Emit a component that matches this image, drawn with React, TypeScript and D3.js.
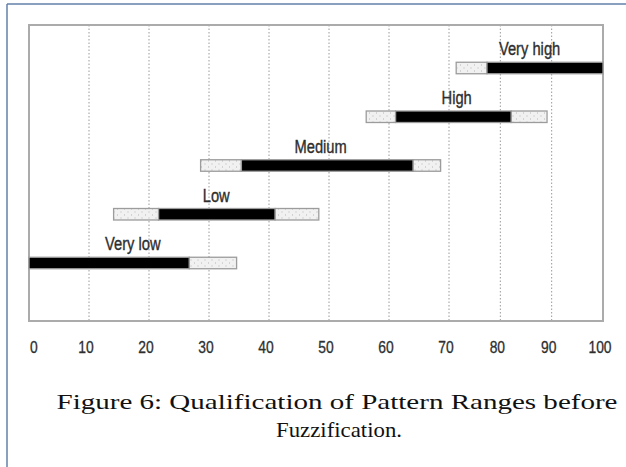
import React from "react";
import * as d3 from "d3";

const categories = ["Very high", "High", "Medium", "Low", "Very low"];
const fuzzyStart = [71.4, 56.2, 28.6, 14.1, 0];
const coreStart = [77.4, 61.1, 35.4, 21.6, 0];
const coreEnd = [100, 82.1, 64, 41, 26.7];
const fuzzyEnd = [100, 89.1, 68.6, 48.3, 34.6];
const tickValues = [0, 10, 20, 30, 40, 50, 60, 70, 80, 90, 100];
const captionLines = ["Figure 6: Qualification of Pattern Ranges before", "Fuzzification."];

const W = 626;
const H = 467;
const plot = { left: 29, right: 603, top: 25, bottom: 321 };

export default function App() {
  // the original axis is piecewise: 0-70 wider than 70-100
  const x = d3.scaleLinear().domain([0, 70, 100]).range([plot.left, 449, plot.right]);
  const y = d3.scalePoint<string>().domain(categories).range([68, 263]);
  const barH = 11.5;
  const labelFont = "'Liberation Sans', Arial, sans-serif";
  const squeeze = 0.84;

  return (
    <svg width={W} height={H} style={{ position: "absolute", left: 0, top: 0, background: "#fff" }}>
      <defs>
        <pattern id="dots" width={7} height={6} patternUnits="userSpaceOnUse">
          <rect width={7} height={6} fill="#f1f1f1" />
          <rect x={1.5} y={1.5} width={1} height={1} fill="#b5b5b5" />
          <rect x={5} y={4.5} width={1} height={1} fill="#b5b5b5" />
        </pattern>
      </defs>
      {/* page border */}
      <line x1={7} y1={4} x2={W} y2={4} stroke="#6282aa" strokeWidth={1.5} />
      <line x1={7} y1={4} x2={7} y2={H} stroke="#6282aa" strokeWidth={1.5} />

      {/* grid */}
      {tickValues.slice(1, -1).map((t) => (
        <line key={t} x1={x(t)} x2={x(t)} y1={plot.top} y2={plot.bottom} stroke="#9a9a9a" strokeWidth={1} strokeDasharray="1.5,2" />
      ))}
      <rect x={plot.left} y={plot.top} width={plot.right - plot.left} height={plot.bottom - plot.top} fill="none" stroke="#ababab" strokeWidth={2} />

      {/* bars */}
      {categories.map((c, i) => {
        const yc = y(c)!;
        const top = yc - barH / 2;
        const segs: { a: number; b: number; fill: string }[] = [];
        if (coreStart[i] > fuzzyStart[i]) segs.push({ a: fuzzyStart[i], b: coreStart[i], fill: "url(#dots)" });
        if (fuzzyEnd[i] > coreEnd[i]) segs.push({ a: coreEnd[i], b: fuzzyEnd[i], fill: "url(#dots)" });
        segs.push({ a: coreStart[i], b: coreEnd[i], fill: "#000" });
        const cx = (x(fuzzyStart[i]) + x(fuzzyEnd[i])) / 2;
        return (
          <g key={c}>
            {segs.map((s, j) => (
              <rect key={j} x={x(s.a)} y={top} width={x(s.b) - x(s.a)} height={barH} fill={s.fill} stroke="#9c9c9c" strokeWidth={1.3} />
            ))}
            <text
              transform={`translate(${cx},${top - 7}) scale(${squeeze},1)`}
              textAnchor="middle"
              fontFamily={labelFont}
              fontSize={17.5}
              fill="#2e2e2e"
              stroke="#2e2e2e"
              strokeWidth={0.35}
            >
              {c}
            </text>
          </g>
        );
      })}

      {/* tick labels */}
      {tickValues.map((t) => (
        <text
          key={t}
          transform={`translate(${t === 0 ? x(t) + 1 : x(t) - 3},353) scale(${squeeze},1)`}
          textAnchor={t === 0 ? "start" : "middle"}
          fontFamily={labelFont}
          fontSize={16.5}
          fill="#2e2e2e"
          stroke="#2e2e2e"
          strokeWidth={0.3}
        >
          {t}
        </text>
      ))}

      {/* caption */}
      <text x={337} y={409} textAnchor="middle" fontFamily="'Liberation Serif', 'Times New Roman', serif" fontSize={22} fill="#111" textLength={561} lengthAdjust="spacingAndGlyphs">
        {captionLines[0]}
      </text>
      <text x={339} y={437} textAnchor="middle" fontFamily="'Liberation Serif', 'Times New Roman', serif" fontSize={22} fill="#111" textLength={126} lengthAdjust="spacingAndGlyphs">
        {captionLines[1]}
      </text>
    </svg>
  );
}
